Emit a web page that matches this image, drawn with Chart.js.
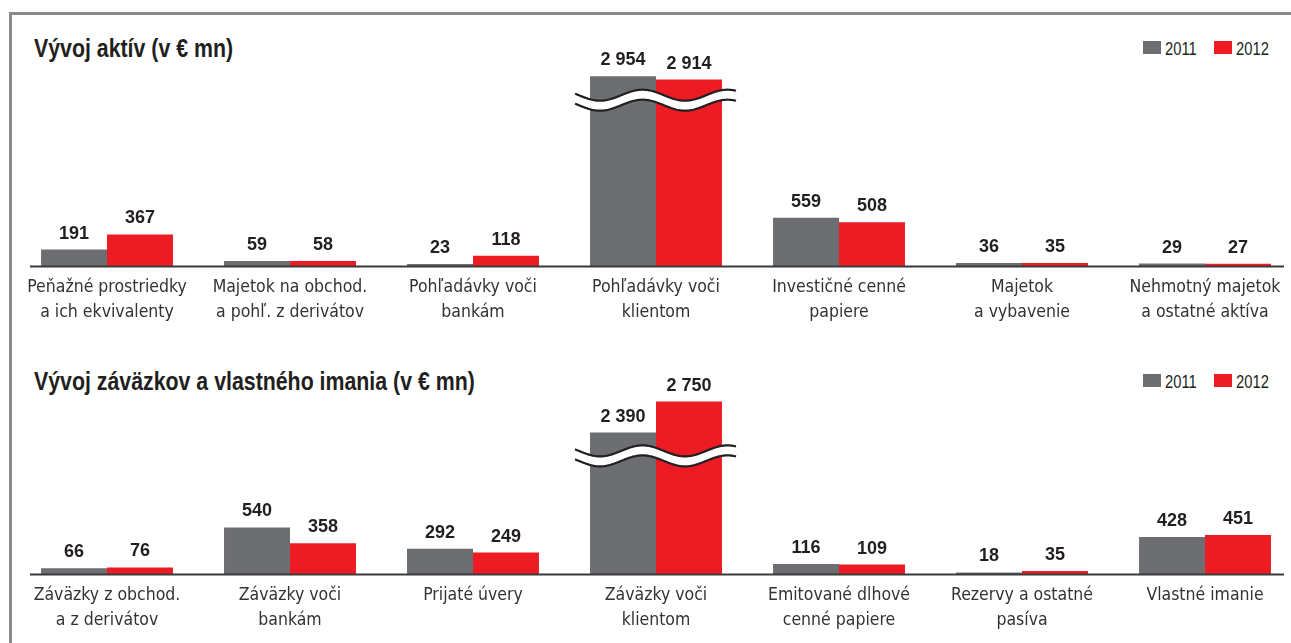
<!DOCTYPE html>
<html>
<head>
<meta charset="utf-8">
<script src="https://cdn.jsdelivr.net/npm/chart.js@4.4.1/dist/chart.umd.min.js"></script>
<style>
    body { margin: 0; width: 1291px; height: 643px; overflow: hidden; background: #fff; position: relative;
           font-family: "Liberation Sans", Arial, sans-serif; color: #231f20; }
    .frame { position: absolute; left: 9px; top: 12px; right: -10px; bottom: -10px;
             border-top: 3px solid #8a8a8a; border-left: 3px solid #8a8a8a; }
    .title { position: absolute; left: 34px; font-weight: bold; font-size: 26px; line-height: 26px; white-space: nowrap;
             transform: scaleX(0.82); transform-origin: left top; }
    .legend { position: absolute; left: 0; height: 18px; width: 1291px; }
    .legend i { position: absolute; top: 1px; width: 18px; height: 13px; }
    .legend span { position: absolute; top: 0; font-size: 18px; line-height: 18px; transform: scaleX(0.82); transform-origin: left top; }
    .wrap { position: absolute; left: 0; width: 1300px; }
</style>
</head>
<body>
<div class="frame"></div>

<div class="title" style="top: 35px;">Vývoj aktív (v € mn)</div>
<div class="legend" style="top: 40px;">
    <i style="left:1143px; background:#6d6e71"></i><span style="left:1165px">2011</span>
    <i style="left:1214px; background:#ed1c24"></i><span style="left:1236px">2012</span>
</div>
<div class="wrap" style="top: 0; height: 330px;"><canvas id="assetsChart" width="1300" height="330"></canvas></div>

<div class="title" style="top: 368px;">Vývoj záväzkov a vlastného imania (v € mn)</div>
<div class="legend" style="top: 373px;">
    <i style="left:1143px; background:#6d6e71"></i><span style="left:1165px">2011</span>
    <i style="left:1214px; background:#ed1c24"></i><span style="left:1236px">2012</span>
</div>
<div class="wrap" style="top: 330px; height: 313px;"><canvas id="liabChart" width="1300" height="313"></canvas></div>

<script>
// Aktíva
const assetCats = [
    ['Peňažné prostriedky', 'a ich ekvivalenty'],
    ['Majetok na obchod.', 'a pohľ. z derivátov'],
    ['Pohľadávky voči', 'bankám'],
    ['Pohľadávky voči', 'klientom'],
    ['Investičné cenné', 'papiere'],
    ['Majetok', 'a vybavenie'],
    ['Nehmotný majetok', 'a ostatné aktíva']
];
const assets2011 = [191, 59, 23, 2954, 559, 36, 29];
const assets2012 = [367, 58, 118, 2914, 508, 35, 27];

// Záväzky a vlastné imanie
const liabCats = [
    ['Záväzky z obchod.', 'a z derivátov'],
    ['Záväzky voči', 'bankám'],
    ['Prijaté úvery'],
    ['Záväzky voči', 'klientom'],
    ['Emitované dlhové', 'cenné papiere'],
    ['Rezervy a ostatné', 'pasíva'],
    ['Vlastné imanie']
];
const liab2011 = [66, 540, 292, 2390, 116, 18, 428];
const liab2012 = [76, 358, 249, 2750, 109, 35, 451];

const seriesLabels = ['2011', '2012'];
const seriesColors = ['#6d6e71', '#ed1c24'];

// broken bar: this many units are cut out of the tall column
const BREAK_INDEX = 3;
const BREAK_CUT = 750;

const fmt = v => String(v).replace(/\B(?=(\d{3})+(?!\d))/g, ' ');

const barLabels = {
    id: 'barLabels',
    afterDatasetsDraw(chart, args, opts) {
        const { ctx } = chart;
        const ys = chart.scales.y;

        // wavy break over the tall pair
        const g = chart.getDatasetMeta(0).data[BREAK_INDEX];
        const r = chart.getDatasetMeta(1).data[BREAK_INDEX];
        const xL = g.x - g.width / 2 - 15;
        const xR = r.x + r.width / 2 + 15;
        const yc = ys.getPixelForValue(opts.breakAt);
        const wave = x => yc - 5 + 5.5 * Math.sin(2 * Math.PI * (x - xL - 25) / 85 + Math.PI / 2);
        ctx.save();
        ctx.beginPath();
        for (let x = xL; x <= xR; x++) ctx.lineTo(x, wave(x));
        for (let x = xR; x >= xL; x--) ctx.lineTo(x, wave(x) + 10);
        ctx.closePath();
        ctx.fillStyle = '#fff';
        ctx.fill();
        ctx.strokeStyle = '#231f20';
        ctx.lineWidth = 2.2;
        [0, 10].forEach(off => {
            ctx.beginPath();
            for (let x = xL; x <= xR; x++) ctx.lineTo(x, wave(x) + off);
            ctx.stroke();
        });

        // axis line
        ctx.beginPath();
        ctx.moveTo(30, chart.chartArea.bottom + 0.5);
        ctx.lineTo(1284, chart.chartArea.bottom + 0.5);
        ctx.lineWidth = 2;
        ctx.strokeStyle = '#3a3a3a';
        ctx.stroke();

        // value labels
        ctx.font = 'bold 18px "Liberation Sans", Arial, sans-serif';
        ctx.fillStyle = '#231f20';
        ctx.textAlign = 'center';
        ctx.textBaseline = 'alphabetic';
        chart.data.datasets.forEach((ds, di) => {
            chart.getDatasetMeta(di).data.forEach((bar, i) => {
                ctx.fillText(fmt(ds.raw[i]), bar.x, bar.y - 11);
            });
        });
        ctx.restore();
    }
};

function makeChart(id, cats, s2011, s2012, yMax, breakAt, padBottom) {
    const plotted = arr => arr.map((v, i) => i === BREAK_INDEX ? v - BREAK_CUT : v);
    return new Chart(document.getElementById(id), {
        type: 'bar',
        data: {
            labels: cats,
            datasets: [s2011, s2012].map((arr, k) => ({
                label: seriesLabels[k],
                data: plotted(arr),
                raw: arr,
                backgroundColor: seriesColors[k],
                categoryPercentage: 0.721,
                barPercentage: 1.0
            }))
        },
        options: {
            responsive: false,
            animation: false,
            layout: { padding: { left: 15.5, right: 3.5, top: 30, bottom: padBottom } },
            plugins: {
                legend: { display: false },
                tooltip: { enabled: false },
                barLabels: { breakAt: breakAt }
            },
            scales: {
                x: {
                    grid: { display: false, drawTicks: false },
                    border: { display: false },
                    ticks: {
                        padding: 9,
                        color: '#333',
                        maxRotation: 0,
                        autoSkip: false,
                        font: { family: '"DejaVu Sans Condensed", "Liberation Sans", sans-serif', size: 17.5, lineHeight: '25px' }
                    },
                    afterFit: scale => { scale.height = 60; }
                },
                y: { display: false, min: 0, max: yMax }
            }
        },
        plugins: [barLabels]
    });
}

makeChart('assetsChart', assetCats, assets2011, assets2012, 2740, 1925, 4);
makeChart('liabChart', liabCats, liab2011, liab2012, 2482, 1370, 9);
</script>
</body>
</html>
